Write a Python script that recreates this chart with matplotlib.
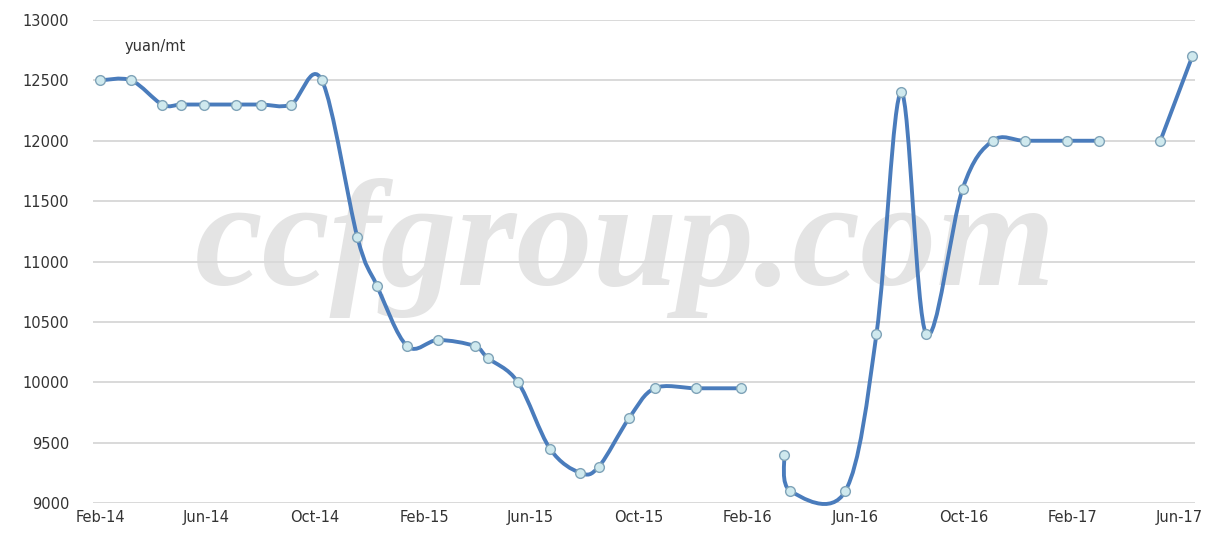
import numpy as np
import pandas as pd
import matplotlib
matplotlib.use("Agg")
import matplotlib.pyplot as plt
import matplotlib.dates as mdates
from matplotlib.path import Path
from matplotlib.patches import PathPatch

# Price series, split where the source has gaps (yuan/mt)
dates_a = ["2014-02-01", "2014-03-08", "2014-04-12", "2014-05-03", "2014-05-29",
           "2014-07-04", "2014-08-01", "2014-09-04", "2014-10-09", "2014-11-18",
           "2014-12-10", "2015-01-13", "2015-02-17", "2015-03-30", "2015-04-14",
           "2015-05-18", "2015-06-23", "2015-07-27", "2015-08-17", "2015-09-20",
           "2015-10-19", "2015-12-05", "2016-01-24"]
prices_a = [12500, 12500, 12300, 12300, 12300,
            12300, 12300, 12300, 12500, 11200,
            10800, 10300, 10350, 10300, 10200,
            10000, 9450, 9250, 9300, 9700,
            9950, 9950, 9950]

dates_b = ["2016-03-13", "2016-03-20", "2016-05-21", "2016-06-25", "2016-07-23",
           "2016-08-20", "2016-09-30", "2016-11-03", "2016-12-09", "2017-01-26",
           "2017-03-03"]
prices_b = [9400, 9100, 9100, 10400, 12400,
            10400, 11600, 12000, 12000, 12000,
            12000]

dates_c = ["2017-05-11", "2017-06-16"]
prices_c = [12000, 12700]

tick_dates = pd.date_range("2014-02-01", "2017-06-01", freq="4MS")
y_ticks = list(range(9000, 13001, 500))

LINE = "#4a7cbc"
FACE = "#cfe9ee"
EDGE = "#7fa3b8"


def smooth_path(x, y):
    # Excel-style smoothed line: Bezier through each point
    pts = np.column_stack([x, y])
    n = len(pts)
    verts = [pts[0]]
    codes = [Path.MOVETO]
    for i in range(n - 1):
        p0 = pts[i - 1] if i > 0 else pts[i]
        p1 = pts[i]
        p2 = pts[i + 1]
        p3 = pts[i + 2] if i + 2 < n else p2
        verts += [p1 + (p2 - p0) / 6, p2 - (p3 - p1) / 6, p2]
        codes += [Path.CURVE4] * 3
    return Path(verts, codes)


fig = plt.figure(figsize=(12.15, 5.5), dpi=100)
ax = fig.add_axes([93 / 1215, 1 - 503 / 550, 1102 / 1215, 483 / 550])

# watermark
ax.text(0.515, 1 - 285 / 550, "ccfgroup.com", transform=fig.transFigure,
        family="Liberation Serif", style="italic", weight="bold", fontsize=110,
        color="#e4e4e4", ha="center", va="baseline", zorder=0.3)

for d, p in [(dates_a, prices_a), (dates_b, prices_b), (dates_c, prices_c)]:
    x = mdates.date2num(pd.to_datetime(d))
    y = np.array(p, dtype=float)
    ax.add_patch(PathPatch(smooth_path(x, y), fill=False, edgecolor=LINE,
                           lw=2.8, capstyle="round", joinstyle="round",
                           zorder=2, clip_on=False))
    ax.plot(x, y, "o", ms=7, mfc=FACE, mec=EDGE, mew=1.0, zorder=3,
            clip_on=False)

ax.set_xlim(mdates.date2num(pd.Timestamp("2014-01-24")),
            mdates.date2num(pd.Timestamp("2017-06-19")))
ax.set_ylim(9000, 13000)
ax.set_xticks(mdates.date2num(tick_dates))
ax.xaxis.set_major_formatter(mdates.DateFormatter("%b-%y"))
ax.set_yticks(y_ticks)

ax.grid(axis="y", color="#d9d9d9", lw=1.4)
ax.set_axisbelow(True)
for s in ax.spines.values():
    s.set_visible(False)
ax.tick_params(axis="both", length=0, labelsize=10.5, labelcolor="#333333")
ax.tick_params(axis="y", pad=17)
ax.tick_params(axis="x", pad=5)

ax.text(125 / 1215, 1 - 47 / 550, "yuan/mt", transform=fig.transFigure,
        fontsize=10.5, color="#333333", ha="left", va="center")

fig.savefig("out.png", dpi=100, facecolor="white")
